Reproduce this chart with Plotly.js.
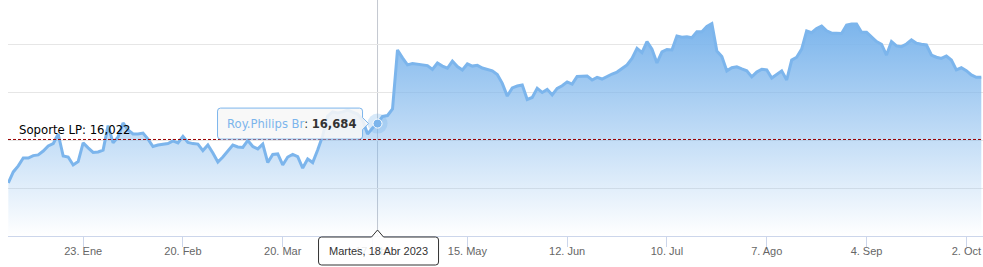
<!DOCTYPE html>
<html><head><meta charset="utf-8">
<script src="https://cdn.plot.ly/plotly-3.0.1.min.js"></script>
<style>html,body{margin:0;padding:0;background:#fff}#chart{width:983px;height:267px}</style>
</head><body><div id="chart"></div>
<script>
const seriesName = 'Roy.Philips Br';
const dates = [
'2023-01-02','2023-01-03','2023-01-04','2023-01-05','2023-01-06','2023-01-09','2023-01-10','2023-01-11','2023-01-12','2023-01-13',
'2023-01-16','2023-01-17','2023-01-18','2023-01-19','2023-01-20','2023-01-23','2023-01-24','2023-01-25','2023-01-26','2023-01-27',
'2023-01-30','2023-01-31',
'2023-02-01','2023-02-02','2023-02-03','2023-02-06','2023-02-07','2023-02-08','2023-02-09','2023-02-10','2023-02-13','2023-02-14',
'2023-02-15','2023-02-16','2023-02-17','2023-02-20','2023-02-21','2023-02-22','2023-02-23','2023-02-24','2023-02-27','2023-02-28',
'2023-03-01','2023-03-02','2023-03-03','2023-03-06','2023-03-07','2023-03-08','2023-03-09','2023-03-10','2023-03-13','2023-03-14',
'2023-03-15','2023-03-16','2023-03-17','2023-03-20','2023-03-21','2023-03-22','2023-03-23','2023-03-24','2023-03-27','2023-03-28',
'2023-03-29','2023-03-30','2023-03-31',
'2023-04-03','2023-04-04','2023-04-05','2023-04-06','2023-04-11','2023-04-12','2023-04-13','2023-04-14','2023-04-17','2023-04-18',
'2023-04-19','2023-04-20','2023-04-21','2023-04-24','2023-04-25','2023-04-26','2023-04-27','2023-04-28',
'2023-05-02','2023-05-03','2023-05-04','2023-05-05','2023-05-08','2023-05-09','2023-05-10','2023-05-11','2023-05-12','2023-05-15',
'2023-05-16','2023-05-17','2023-05-18','2023-05-19','2023-05-22','2023-05-23','2023-05-24','2023-05-25','2023-05-26','2023-05-29',
'2023-05-30','2023-05-31',
'2023-06-01','2023-06-02','2023-06-05','2023-06-06','2023-06-07','2023-06-08','2023-06-09','2023-06-12','2023-06-13','2023-06-14',
'2023-06-15','2023-06-16','2023-06-19','2023-06-20','2023-06-21','2023-06-22','2023-06-23','2023-06-26','2023-06-27','2023-06-28',
'2023-06-29','2023-06-30',
'2023-07-03','2023-07-04','2023-07-05','2023-07-06','2023-07-07','2023-07-10','2023-07-11','2023-07-12','2023-07-13','2023-07-14',
'2023-07-17','2023-07-18','2023-07-19','2023-07-20','2023-07-21','2023-07-24','2023-07-25','2023-07-26','2023-07-27','2023-07-28',
'2023-07-31',
'2023-08-01','2023-08-02','2023-08-03','2023-08-04','2023-08-07','2023-08-08','2023-08-09','2023-08-10','2023-08-11','2023-08-14',
'2023-08-15','2023-08-16','2023-08-17','2023-08-18','2023-08-21','2023-08-22','2023-08-23','2023-08-24','2023-08-25','2023-08-28',
'2023-08-29','2023-08-30','2023-08-31',
'2023-09-01','2023-09-04','2023-09-05','2023-09-06','2023-09-07','2023-09-08','2023-09-11','2023-09-12','2023-09-13','2023-09-14',
'2023-09-15','2023-09-18','2023-09-19','2023-09-20','2023-09-21','2023-09-22','2023-09-25','2023-09-26','2023-09-27','2023-09-28',
'2023-09-29',
'2023-10-02','2023-10-03','2023-10-04','2023-10-05'
];
const prices = [
14.21,14.67,14.92,15.25,15.25,15.35,15.38,15.54,15.75,15.85,
16.25,15.33,15.29,14.96,15.10,15.88,15.67,15.48,15.50,15.58,
16.60,15.88,16.13,16.71,16.42,16.25,16.25,16.29,16.04,15.73,
15.79,15.83,15.85,15.96,15.88,16.15,15.90,15.85,15.83,15.56,
15.79,15.46,15.08,15.29,15.56,15.79,15.71,15.69,15.98,15.73,
15.63,15.83,15.06,15.40,15.42,14.96,15.29,15.40,15.31,14.83,
15.21,15.06,15.58,16.17,17.00,17.17,17.13,17.17,17.25,17.17,
17.08,16.83,16.25,16.50,16.684,16.98,17.02,17.29,19.75,19.42,
19.13,19.19,19.15,19.13,19.10,18.94,19.21,19.08,18.99,19.29,
19.06,18.92,19.17,19.08,19.11,19.00,18.94,18.88,18.73,18.36,
17.83,18.17,18.25,18.29,17.69,17.77,18.15,17.98,18.11,17.88,
18.15,18.26,18.42,18.33,18.65,18.67,18.67,18.50,18.61,18.54,
18.65,18.75,18.83,18.99,19.13,19.40,19.82,19.64,20.10,19.78,
19.21,19.67,19.77,19.75,20.33,20.28,20.30,20.26,20.51,20.51,
20.73,20.85,19.71,19.48,18.88,19.01,19.05,18.96,18.88,18.63,
18.83,18.95,18.92,18.58,18.75,18.88,18.50,19.33,19.45,19.79,
20.54,20.47,20.65,20.75,20.55,20.45,20.45,20.44,20.79,20.83,
20.83,20.49,20.49,20.30,20.10,19.99,19.54,20.10,19.92,19.89,
20.00,20.17,20.03,19.99,19.96,19.54,19.45,19.40,19.50,19.33,
18.92,19.01,18.89,18.71,18.61,18.61
];
const tickDates = ['2023-01-23','2023-02-20','2023-03-20','2023-04-17','2023-05-15','2023-06-12','2023-07-10','2023-08-07','2023-09-04','2023-10-02'];
const tickLabels = ['23. Ene','20. Feb','20. Mar','17. Abr','15. May','12. Jun','10. Jul','7. Ago','4. Sep','2. Oct'];
const gridValues = [12, 14, 16, 18, 20];
const supportLevel = 16.022;
const supportLabel = 'Soporte LP';
const hoverDate = '2023-04-18';
const hoverDateLabel = 'Martes, 18 Abr 2023';

const fmt = v => v.toFixed(3).replace('.', ',');
const hi = dates.indexOf(hoverDate);
const hv = prices[hi];
const lineColor = '#7cb5ec';
const font = 'Liberation Sans, Arial, Helvetica, sans-serif';
const font2 = 'DejaVu Sans, Verdana, sans-serif';
const yMin = 12, yMax = 21.8333;

const traces = [
  {type:'scatter', mode:'lines', x:dates, y:prices, line:{color:lineColor, width:3}, fill:'tozeroy',
   fillgradient:{type:'vertical', start:yMin, stop:Math.max(...prices),
     colorscale:[[0,'rgba(124,181,236,0)'],[1,'rgba(124,181,236,1)']]}, hoverinfo:'skip'},
  {type:'scatter', mode:'markers', x:[hoverDate], y:[hv], marker:{size:20, color:'rgba(124,181,236,0.3)'}, hoverinfo:'skip'},
  {type:'scatter', mode:'markers', x:[hoverDate], y:[hv], marker:{size:9, color:lineColor, line:{color:'#ffffff', width:1}}, hoverinfo:'skip'}
];

const tipPath = 'M -157,15.5 L -18,15.5 Q -15,15.5 -15,12.5 L -15,6 L -9,0 L -15,-6 L -15,-12.5 Q -15,-15.5 -18,-15.5 L -157,-15.5 Q -160,-15.5 -160,-12.5 L -160,12.5 Q -160,15.5 -157,15.5 Z';
const datePath = 'M -56,-1 L -6,-1 L 0,6 L 6,-1 L 58,-1 Q 61,-1 61,-4 L 61,-26 Q 61,-29 58,-29 L -56,-29 Q -59,-29 -59,-26 L -59,-4 Q -59,-1 -56,-1 Z';

const layout = {
  width:983, height:267, margin:{l:8, r:0, t:0, b:31}, paper_bgcolor:'#ffffff', plot_bgcolor:'#ffffff', showlegend:false,
  xaxis:{type:'category', range:[-0.06, 195.34], tickmode:'array', tickvals:tickDates, ticktext:tickLabels,
    ticks:'outside', ticklen:10, tickcolor:'#ccd6eb', tickwidth:1, showline:true, linecolor:'#ccd6eb', linewidth:1,
    ticklabelstandoff:-5,
    showgrid:false, zeroline:false, tickfont:{family:font, size:11, color:'#666666'}, fixedrange:true},
  yaxis:{range:[yMin, yMax], tickmode:'array', tickvals:gridValues, showticklabels:false, showgrid:true, gridcolor:'#e6e6e6',
    gridwidth:1, zeroline:false, showline:false, ticks:'', fixedrange:true},
  shapes:[
    {type:'line', xref:'x', yref:'paper', x0:hi, x1:hi, y0:0, y1:1, line:{color:'#c4c8d0', width:1}, layer:'below'},
    {type:'line', xref:'paper', yref:'y', x0:0, x1:1, y0:supportLevel, y1:supportLevel, line:{color:'#990000', width:1, dash:'3px,2px'}, layer:'above'},
    {type:'path', xref:'x', yref:'y', xsizemode:'pixel', ysizemode:'pixel', xanchor:hi, yanchor:hv, path:tipPath,
      fillcolor:'rgba(247,247,247,0.88)', line:{color:lineColor, width:1}, layer:'above'},
    {type:'path', xref:'x', yref:'paper', xsizemode:'pixel', ysizemode:'pixel', xanchor:hi, yanchor:0, path:datePath,
      fillcolor:'rgba(255,255,255,0.88)', line:{color:'#333333', width:1}, layer:'above'}
  ],
  annotations:[
    {xref:'paper', yref:'y', x:0, y:supportLevel, xanchor:'left', yanchor:'bottom', xshift:9, yshift:0, showarrow:false,
      text:supportLabel + ': ' + fmt(supportLevel), font:{family:font2, size:11.7, color:'#000000'}},
    {xref:'x', yref:'y', x:hi, y:hv, xanchor:'left', yanchor:'middle', xshift:-153, yshift:0, showarrow:false,
      text:'<span style="color:' + lineColor + '">' + seriesName + '</span>: <b>' + fmt(hv) + '</b>',
      font:{family:font2, size:11.6, color:'#333333'}},
    {xref:'x', yref:'paper', x:hi, y:0, xanchor:'center', yanchor:'middle', xshift:1, yshift:-15, showarrow:false,
      text:hoverDateLabel, font:{family:font, size:11, color:'#333333'}}
  ]
};

Plotly.newPlot('chart', traces, layout, {staticPlot:true, displayModeBar:false});
</script>
</body></html>
